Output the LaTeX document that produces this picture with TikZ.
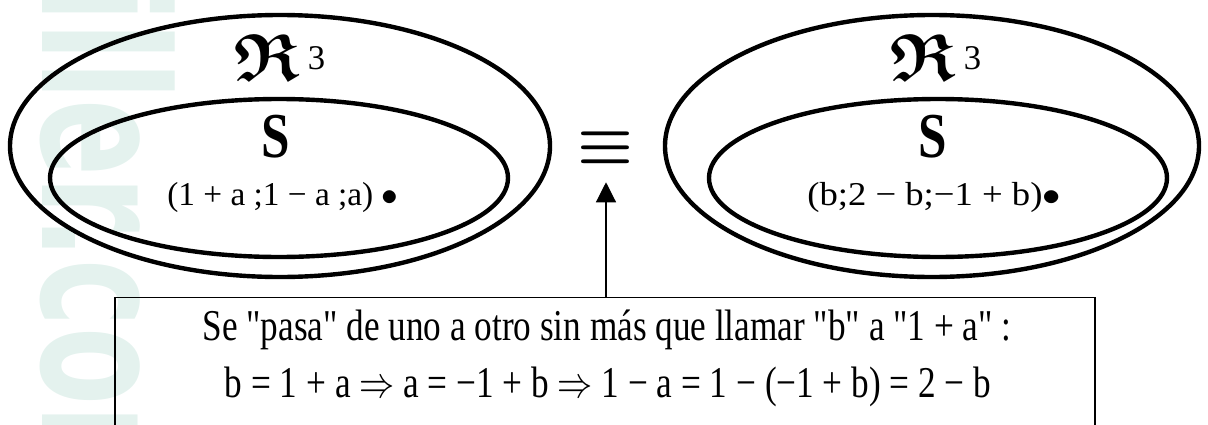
\documentclass[tikz,border=0pt]{standalone}
\usepackage{fix-cm}
\usepackage{amsmath,amssymb}
\usepackage{fontspec}
\setmainfont{Liberation Serif}
\newfontfamily\wmfont{DejaVu Sans}
\usetikzlibrary{arrows.meta,positioning}
\newcommand{\qd}{\textquotedbl}

\begin{document}
\begin{tikzpicture}[x=0.75pt,y=0.75pt,yscale=-1,xscale=1]
	\useasboundingbox (0,0) rectangle (1208,425);
	\clip (0,0) rectangle (1208,425);
	
	% Watermark
	\node (wmark) [anchor=base west, inner sep=0pt, rotate=-90, xscale=0.65, text={rgb, 255:red, 228; green, 242; blue, 238}] at (42,-17) {\wmfont\bfseries\fontsize{131}{131}\selectfont iller.com};
	
	%Shape: Ellipse [outer left]
	\draw [line width=3.3] (280,146) ellipse [x radius=270, y radius=131];
	%Shape: Ellipse [inner left]
	\draw [line width=3.3] (279,178) ellipse [x radius=229, y radius=79];
	%Shape: Ellipse [outer right]
	\draw [line width=3.3] (932,146) ellipse [x radius=267, y radius=131];
	%Shape: Ellipse [inner right]
	\draw [line width=3.3] (938,178) ellipse [x radius=229, y radius=79];
	
	% Text Node
	\node (rleft) [anchor=base, inner sep=0pt] at (280,80) {\fontsize{50}{50}\selectfont$\boldsymbol{\mathfrak{R}}$\hspace{6pt}\raisebox{8pt}{\fontsize{26}{26}\selectfont 3}};
	% Text Node
	\node (rright) [anchor=base, inner sep=0pt] at (936,80) {\fontsize{50}{50}\selectfont$\boldsymbol{\mathfrak{R}}$\hspace{6pt}\raisebox{8pt}{\fontsize{26}{26}\selectfont 3}};
	% Text Node
	\node (sleft) [anchor=base, inner sep=0pt, xscale=0.8] at (276,157) {\bfseries\fontsize{48}{48}\selectfont S};
	% Text Node
	\node (sright) [anchor=base, inner sep=0pt, xscale=0.8] at (933,157) {\bfseries\fontsize{48}{48}\selectfont S};
	% Text Node
	\node (pleft) [anchor=base west, inner sep=0pt] at (167,205) {\fontsize{25}{25}\selectfont(1 + a ;1 − a ;a) $\bullet$};
	% Text Node
	\node (pright) [anchor=base west, inner sep=0pt, xscale=1.1] at (807,205) {\fontsize{25}{25}\selectfont(b;2 − b;−1 + b)$\bullet$};
	
	% Text Node
	\node (eq) [inner sep=0pt, minimum height=51pt] at (606,148) {\fontsize{47}{47}\selectfont$\boldsymbol{\equiv}$};
	
	%Shape: Rectangle [note]
	\node (note) [draw, line width=1, anchor=north, minimum width=735, minimum height=150] at (605,297) {};
	%Straight Lines
	\draw [line width=0.9, -{Triangle[length=15pt,width=15pt]}] (note.north -| eq.south) -- (eq.south);
	
	% Text Node
	\node (lineone) [anchor=base, inner sep=0pt, xscale=0.8] at (607,340) {\fontsize{33}{33}\selectfont Se \qd pasa\qd{} de uno a otro sin más que llamar \qd b\qd{} a \qd 1 + a\qd{} :};
	% Text Node
	\node (linetwo) [anchor=base, inner sep=0pt, xscale=0.8] at (608,397) {\fontsize{33}{33}\selectfont b = 1 + a $\Rightarrow$ a = −1 + b $\Rightarrow$ 1 − a = 1 − (−1 + b) = 2 − b};
	
\end{tikzpicture}
\end{document}
